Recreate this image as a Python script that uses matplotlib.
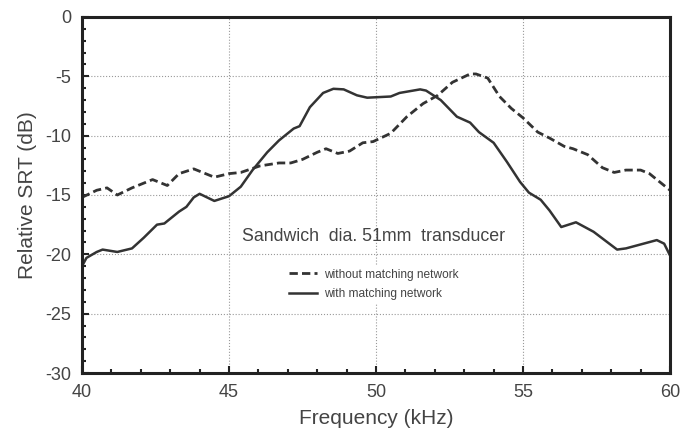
import numpy as np
import matplotlib
matplotlib.use('Agg')
import matplotlib.pyplot as plt
from matplotlib.ticker import MultipleLocator

plt.rcParams['font.family'] = ['Liberation Sans', 'DejaVu Sans']
plt.rcParams['axes.unicode_minus'] = False

# without matching network (dashed)
f_without = [40.0, 40.5, 40.85, 41.2, 41.7, 42.4, 42.9, 43.3, 43.8, 44.5, 45.0, 45.4,
             46.05, 46.7, 47.1, 47.5, 48.0, 48.3, 48.7, 49.1, 49.55, 49.9, 50.5,
             51.05, 51.6, 52.1, 52.6, 53.2, 53.4, 53.8, 54.2, 54.6, 55.0, 55.5,
             55.9, 56.4, 56.7, 57.2, 57.7, 58.1, 58.5, 59.0, 59.3, 59.7, 60.0]
srt_without = [-15.2, -14.6, -14.4, -15.0, -14.4, -13.7, -14.2, -13.2, -12.8, -13.5,
               -13.2, -13.1, -12.55, -12.3, -12.3, -12.0, -11.4, -11.1, -11.5, -11.3,
               -10.6, -10.5, -9.8, -8.4, -7.3, -6.6, -5.5, -4.8, -4.8, -5.15, -6.7,
               -7.7, -8.5, -9.7, -10.2, -10.9, -11.1, -11.6, -12.7, -13.1, -12.9,
               -12.9, -13.2, -14.0, -14.6]

# with matching network (solid)
f_with = [40.0, 40.15, 40.5, 40.7, 41.2, 41.7, 42.1, 42.55, 42.8, 43.3, 43.55, 43.8,
          44.0, 44.5, 45.0, 45.4, 45.8, 46.3, 46.7, 47.2, 47.4, 47.75, 48.2, 48.55,
          48.9, 49.35, 49.7, 50.5, 50.8, 51.5, 51.7, 52.2, 52.75, 53.2, 53.5, 54.0,
          54.45, 54.9, 55.2, 55.6, 55.9, 56.3, 56.8, 57.4, 58.2, 58.5, 59.55, 59.8, 60.0]
srt_with = [-21.0, -20.3, -19.8, -19.6, -19.8, -19.5, -18.6, -17.5, -17.4, -16.4,
            -16.0, -15.2, -14.9, -15.5, -15.1, -14.3, -12.9, -11.4, -10.4, -9.4,
            -9.2, -7.6, -6.4, -6.05, -6.1, -6.6, -6.8, -6.7, -6.4, -6.1, -6.2,
            -7.0, -8.4, -8.9, -9.7, -10.6, -12.2, -13.9, -14.8, -15.4, -16.3,
            -17.7, -17.3, -18.1, -19.6, -19.5, -18.8, -19.1, -20.1]

labels = ['without matching network', 'with matching network']
title = 'Sandwich  dia. 51mm  transducer'

fig = plt.figure(figsize=(6.87, 4.38), dpi=100)
ax = fig.add_axes([0.1194, 0.1484, 0.8559, 0.8128])

line_col = '#333333'
text_col = '#444444'
ax.plot(f_without, srt_without, color=line_col, lw=2.0, ls=(0, (3, 1.5)), label=labels[0])
ax.plot(f_with, srt_with, color=line_col, lw=1.8, label=labels[1])

ax.set_xlim(40, 60)
ax.set_ylim(-30, 0)
ax.xaxis.set_major_locator(MultipleLocator(5))
ax.xaxis.set_minor_locator(MultipleLocator(1))
ax.yaxis.set_major_locator(MultipleLocator(5))
ax.yaxis.set_minor_locator(MultipleLocator(1))
ax.grid(True, which='major', color='#999999', ls=':', lw=0.8)
ax.tick_params(which='both', direction='in', colors='#222222', labelcolor=text_col,
               labelsize=13, width=1.5)
ax.tick_params(which='major', length=5, pad=8)
ax.tick_params(which='minor', length=3)
for s in ax.spines.values():
    s.set_linewidth(2.2)
    s.set_color('#222222')

ax.set_xlabel('Frequency (kHz)', fontsize=15, color=text_col, labelpad=6)
ax.set_ylabel('Relative SRT (dB)', fontsize=15, color=text_col, labelpad=6)

ax.text(45.44, -18.5, title, fontsize=12.8, color=text_col, va='center', ha='left')
leg = ax.legend(loc='upper left', bbox_to_anchor=(0.336, 0.32), fontsize=8.6,
                frameon=True, facecolor='white', edgecolor='none', framealpha=1,
                handlelength=2.3, handletextpad=0.6, labelcolor=text_col,
                borderpad=0.3, labelspacing=0.6)

fig.savefig('out.png', dpi=100)
